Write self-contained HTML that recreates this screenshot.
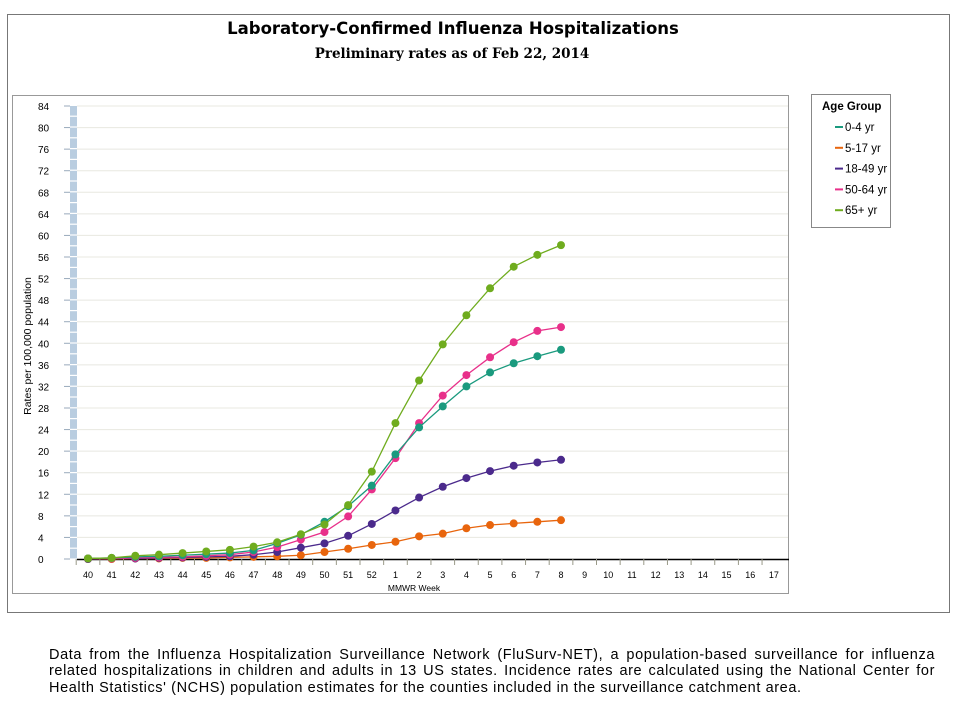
<!DOCTYPE html>
<html><head><meta charset="utf-8"><style>
body{margin:0;background:#fff;width:960px;height:720px;overflow:hidden;font-family:"Liberation Sans",Arial,sans-serif}
svg{position:absolute;left:0;top:0}
.foot{position:absolute;left:49px;top:647px;width:886px;font-size:14.5px;line-height:16.3px;color:#000;letter-spacing:0.6px}
.foot div{text-align:justify;text-align-last:justify;white-space:nowrap}
.foot div.l{text-align:left;text-align-last:left}
</style></head><body>
<svg id="s" width="960" height="720" xmlns="http://www.w3.org/2000/svg">
<rect x="7.5" y="14.5" width="942" height="598" fill="#fff" stroke="#777"/>
<text x="453" y="34" text-anchor="middle" font-family="DejaVu Sans,sans-serif" font-weight="bold" font-size="16.5">Laboratory-Confirmed Influenza Hospitalizations</text>
<text x="452" y="58" text-anchor="middle" font-family="DejaVu Serif,serif" font-weight="bold" font-size="13.5">Preliminary rates as of Feb 22, 2014</text>
<rect x="12.5" y="95.5" width="776" height="498" fill="#fff" stroke="#999"/>
<rect x="811.5" y="94.5" width="79" height="133" fill="#fff" stroke="#888"/>
<text x="822" y="110" font-size="11.5" font-weight="bold">Age Group</text>
<g id="g"></g>
<text x="31" y="346" font-size="10.5" transform="rotate(-90 31 346)" text-anchor="middle">Rates per 100,000 population</text>
<text x="414" y="591" font-size="8.5" text-anchor="middle">MMWR Week</text>
</svg>
<div class="foot">
<div>Data from the Influenza Hospitalization Surveillance Network (FluSurv-NET), a population-based surveillance for influenza</div>
<div>related hospitalizations in children and adults in 13 US states. Incidence rates are calculated using the National Center for</div>
<div class="l">Health Statistics' (NCHS) population estimates for the counties included in the surveillance catchment area.</div>
</div>
<script>
var g=document.getElementById('g'),h='';
function Y(v){return 559-v*453/84;}
function X(i){return 88+i*23.65;}
for(var v=0;v<=84;v+=4){var y=Y(v);
 if(v>0)h+='<line x1="77" x2="788" y1="'+y+'" y2="'+y+'" stroke="#e8e8e0"/>';
 h+='<line x1="64" x2="70" y1="'+y+'" y2="'+y+'" stroke="#9ab"/>';
 h+='<text x="38" y="'+(y+4)+'" font-size="10">'+v+'</text>';}
for(var y=106;y<559;y+=10.8){h+='<rect x="70" y="'+y+'" width="7" height="9.6" fill="#b9cde0"/>';}
h+='<line x1="77" x2="789" y1="559.5" y2="559.5" stroke="#000" stroke-width="1.5"/>';
var labs=[40,41,42,43,44,45,46,47,48,49,50,51,52,1,2,3,4,5,6,7,8,9,10,11,12,13,14,15,16,17];
for(var i=0;i<labs.length;i++){var x=X(i);
 h+='<line x1="'+(x-11.8)+'" x2="'+(x-11.8)+'" y1="559" y2="565" stroke="#998"/>';
 h+='<text x="'+x+'" y="578" font-size="9" text-anchor="middle">'+labs[i]+'</text>';}
var S=[
['#6fac1e',[0.1,0.2,0.6,0.8,1.1,1.4,1.7,2.3,3.1,4.6,6.4,10,16.2,25.2,33.1,39.8,45.2,50.2,54.2,56.4,58.2]],
['#1a9a7e',[0.1,0.2,0.4,0.5,0.7,0.9,1.1,1.6,2.9,4.5,6.9,9.8,13.6,19.4,24.4,28.3,32.0,34.6,36.3,37.6,38.8]],
['#e8308a',[0.1,0.1,0.2,0.3,0.4,0.6,0.8,1.3,2.2,3.6,5.0,7.9,12.9,18.7,25.2,30.3,34.1,37.4,40.2,42.3,43.0]],
['#4b2a8c',[0,0.1,0.1,0.2,0.3,0.4,0.5,0.8,1.3,2.1,2.9,4.3,6.5,9.0,11.4,13.4,15.0,16.3,17.3,17.9,18.4]],
['#e8650d',[0,0,0.1,0.1,0.2,0.2,0.3,0.4,0.5,0.7,1.3,1.9,2.6,3.2,4.2,4.7,5.7,6.3,6.6,6.9,7.2]]];
for(var k=S.length-1;k>=0;k--){var c=S[k][0],d=S[k][1],p='';
 for(var i=0;i<d.length;i++)p+=X(i)+','+Y(d[i])+' ';
 h+='<polyline points="'+p+'" fill="none" stroke="'+c+'" stroke-width="1.3"/>';
 for(var i=0;i<d.length;i++)h+='<circle cx="'+X(i)+'" cy="'+Y(d[i])+'" r="4" fill="'+c+'"/>';}
var L=[['#1a9a7e','0-4 yr'],['#e8650d','5-17 yr'],['#4b2a8c','18-49 yr'],['#e8308a','50-64 yr'],['#6fac1e','65+ yr']];
for(var i=0;i<5;i++){var y=127+i*20.8;
 h+='<line x1="835" x2="843" y1="'+y+'" y2="'+y+'" stroke="'+L[i][0]+'" stroke-width="2"/>';
 h+='<text x="845" y="'+(y+4)+'" font-size="11.5">'+L[i][1]+'</text>';}
g.innerHTML=h;
</script>
</body></html>
